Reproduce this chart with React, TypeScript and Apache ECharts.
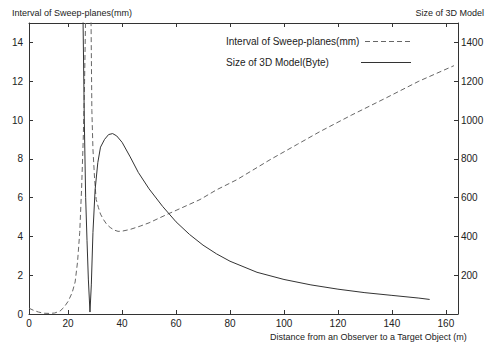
import React, { useEffect, useRef } from "react";
import * as echarts from "echarts";

// ---- data ----
const X_MIN = 5.5;
const X_MAX = 164.5;
const xTickValues = [20, 40, 60, 80, 100, 120, 140, 160];
const leftTicks = { min: 0, max: 15, interval: 2 };
const rightTicks = { min: 0, max: 1500, interval: 200 };

// Interval of Sweep-planes (mm), left axis
const intervalX = [
  5.5, 7, 9, 11, 13, 15, 17, 18.5, 20, 21.5, 22.6, 23.5, 24.3, 25.0, 25.6, 26.1, 26.5, 26.7,
  28.3, 28.5, 28.8, 29.2, 29.8, 30.4, 31.2, 32.0, 33.1, 34.3, 35.6, 37.0, 38.5, 40.0, 43.0,
  46.7, 50, 56.6, 60, 68.9, 75, 82.5, 94.8, 105, 113.3, 125, 138, 150, 163,
];
const intervalY = [
  0.3, 0.2, 0.1, 0.04, 0.03, 0.05, 0.15, 0.35, 0.65, 1.1, 1.65, 2.7, 4.2, 6.5, 9.0, 12.0, 15.5, 18,
  17, 15, 10.5, 8.5, 7.0, 5.9, 5.5, 5.15, 4.87, 4.62, 4.46, 4.33, 4.26, 4.27, 4.36,
  4.53, 4.7, 5.13, 5.34, 5.9, 6.4, 6.92, 7.95, 8.75, 9.4, 10.25, 11.15, 12.0, 12.8,
];

// Size of 3D Model (Byte), right axis
const sizeX = [
  25.3, 25.5, 26.0, 26.5, 27.0, 27.5, 28.1, 28.6, 29.2, 30.0, 31.0, 32.0, 33.5, 35.0, 36.5,
  38.0, 40.0, 43.0, 46.0, 50.0, 55.0, 60.0, 65.0, 70.0, 75.0, 80.0, 90.0, 100.0, 110.0, 120.0,
  130.0, 140.0, 150.0, 154.0,
];
const sizeY = [
  2200, 1550, 1000, 600, 380, 180, 10, 150, 420, 640, 780, 860, 900, 925, 930,
  918, 885, 810, 730, 645, 555, 475, 410, 355, 310, 272, 215, 178, 150, 128,
  110, 96, 82, 75,
];

const leftTitle = "Interval of Sweep-planes(mm)";
const rightTitle = "Size of 3D Model";
const xTitle = "Distance from an Observer to a Target Object (m)";
const legendInterval = "Interval of Sweep-planes(mm)";
const legendSize = "Size of 3D Model(Byte)";

const FONT = "'Liberation Sans', Arial, Helvetica, sans-serif";
const TEXT = "#222";
const AXIS = "#333";

export default function App() {
  const ref = useRef<HTMLDivElement>(null);

  useEffect(() => {
    if (!ref.current) return;
    const chart = echarts.init(ref.current, undefined, { renderer: "svg" });

    const intervalData = intervalX.map((x, i) => [x, intervalY[i]]);
    const sizeData = sizeX.map((x, i) => [x, sizeY[i]]);

    const axisLine = { show: true, onZero: false, lineStyle: { color: AXIS, width: 1 } };
    const label = { fontSize: 10, color: TEXT, fontFamily: FONT };

    chart.setOption({
      animation: false,
      backgroundColor: "#fff",
      grid: { left: 29, top: 23, width: 429, height: 291, containLabel: false },
      xAxis: [
        {
          type: "value",
          position: "bottom",
          min: X_MIN,
          max: X_MAX,
          axisLine,
          splitLine: { show: false },
          axisTick: {
            show: true,
            inside: true,
            length: 4,
            customValues: xTickValues,
            lineStyle: { color: AXIS },
          },
          axisLabel: {
            ...label,
            margin: 4,
            customValues: [X_MIN, ...xTickValues],
            formatter: (v: number) => (v === X_MIN ? "0" : String(v)),
          },
        },
        {
          type: "value",
          position: "top",
          min: X_MIN,
          max: X_MAX,
          axisLine,
          splitLine: { show: false },
          axisTick: {
            show: true,
            inside: true,
            length: 4,
            customValues: xTickValues,
            lineStyle: { color: AXIS },
          },
          axisLabel: { show: false },
        },
      ],
      yAxis: [
        {
          type: "value",
          position: "left",
          min: leftTicks.min,
          max: leftTicks.max,
          interval: leftTicks.interval,
          axisLine,
          splitLine: { show: false },
          axisTick: { show: true, inside: true, length: 4, lineStyle: { color: AXIS } },
          axisLabel: {
            ...label,
            margin: 6,
            showMaxLabel: false,
            formatter: (v: number) => String(v),
          },
        },
        {
          type: "value",
          position: "right",
          min: rightTicks.min,
          max: rightTicks.max,
          interval: rightTicks.interval,
          axisLine,
          splitLine: { show: false },
          axisTick: { show: true, inside: true, length: 4, lineStyle: { color: AXIS } },
          axisLabel: {
            ...label,
            margin: 3,
            showMinLabel: false,
            showMaxLabel: false,
            formatter: (v: number) => String(v),
          },
        },
      ],
      series: [
        {
          name: legendInterval,
          type: "line",
          xAxisIndex: 0,
          yAxisIndex: 0,
          data: intervalData,
          showSymbol: false,
          clip: true,
          lineStyle: { color: "#666", width: 1, type: [5, 3] },
        },
        {
          name: legendSize,
          type: "line",
          xAxisIndex: 0,
          yAxisIndex: 1,
          data: sizeData,
          showSymbol: false,
          clip: true,
          lineStyle: { color: "#333", width: 1, type: "solid" },
        },
      ],
      graphic: [
        {
          type: "text",
          left: 12,
          top: 8,
          style: { text: leftTitle, fontSize: 9, fill: TEXT, fontFamily: FONT },
        },
        {
          type: "text",
          right: 6,
          top: 8,
          style: { text: rightTitle, fontSize: 9, fill: TEXT, fontFamily: FONT },
        },
        {
          type: "text",
          right: 23,
          top: 332,
          style: { text: xTitle, fontSize: 9, fill: TEXT, fontFamily: FONT },
        },
        {
          type: "text",
          x: 226,
          y: 41,
          style: {
            text: legendInterval,
            fontSize: 10,
            fill: TEXT,
            fontFamily: FONT,
            verticalAlign: "middle",
          },
        },
        {
          type: "line",
          shape: { x1: 365, y1: 41.5, x2: 411, y2: 41.5 },
          style: { stroke: "#666", lineWidth: 1, lineDash: [5, 3] },
        },
        {
          type: "text",
          x: 226,
          y: 62,
          style: {
            text: legendSize,
            fontSize: 10,
            fill: TEXT,
            fontFamily: FONT,
            verticalAlign: "middle",
          },
        },
        {
          type: "line",
          shape: { x1: 361, y1: 62.5, x2: 411, y2: 62.5 },
          style: { stroke: "#333", lineWidth: 1 },
        },
      ],
    });

    return () => chart.dispose();
  }, []);

  return (
    <div
      ref={ref}
      style={{ position: "fixed", left: 0, top: 0, width: 490, height: 343, background: "#fff" }}
    />
  );
}
